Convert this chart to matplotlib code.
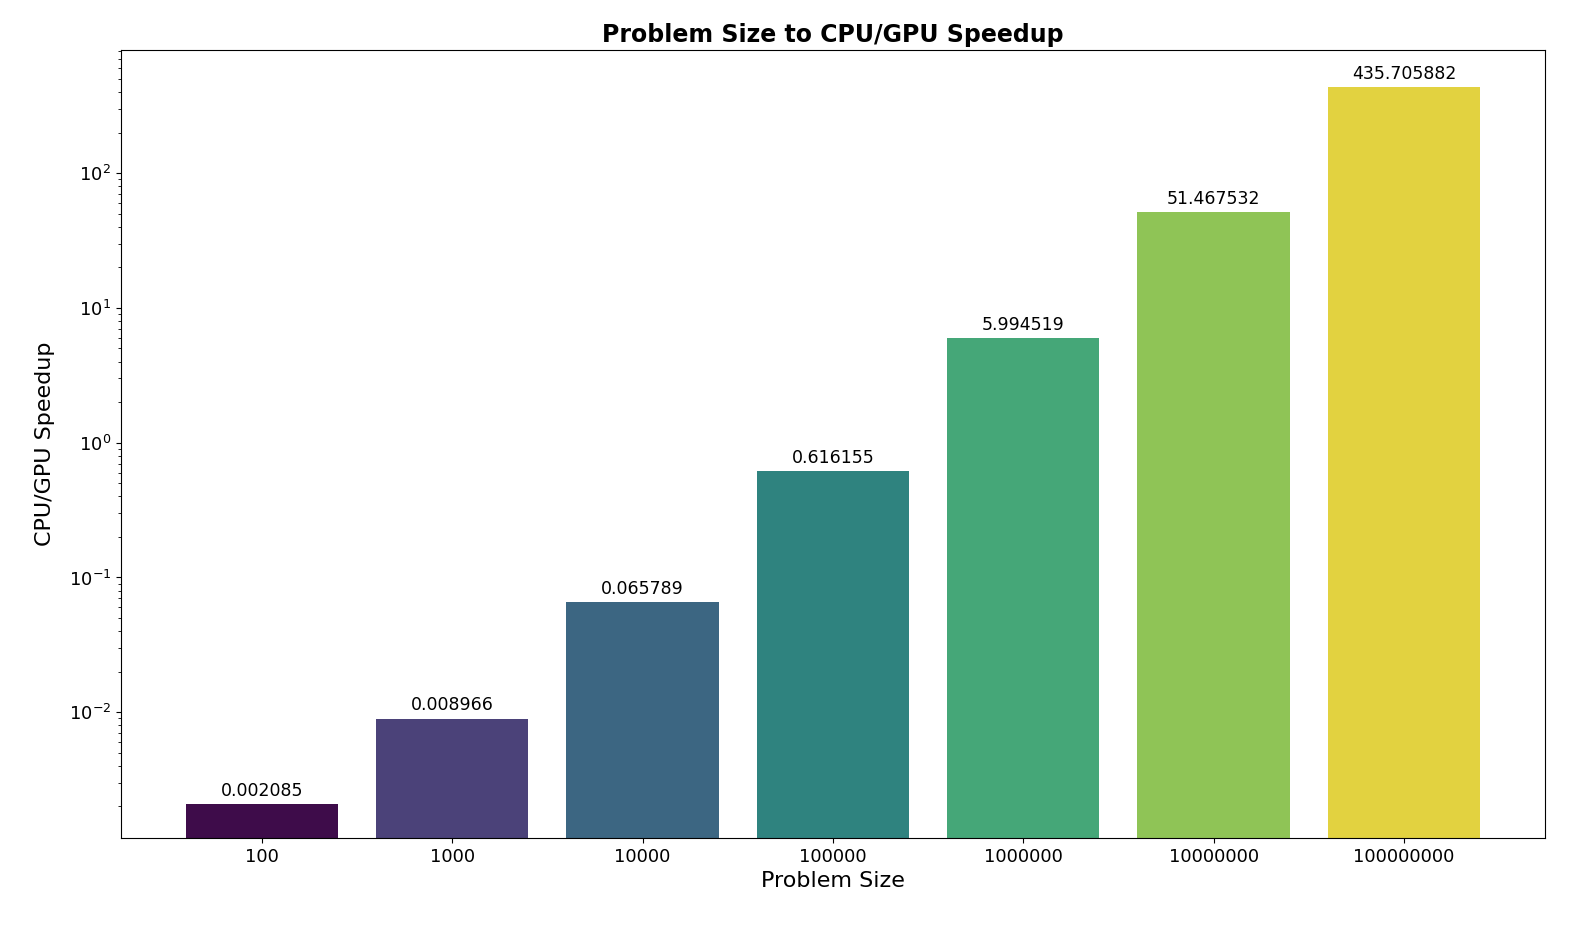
import numpy as np
import matplotlib
matplotlib.use("Agg")
import matplotlib.pyplot as plt
import seaborn as sns

sizes = ["100", "1000", "10000", "100000", "1000000", "10000000", "100000000"]
speedup = [0.002085, 0.008966, 0.065789, 0.616155, 5.994519, 51.467532, 435.705882]

# seaborn barplot look: viridis, saturation 0.75
colors = [sns.desaturate(c, 0.75) for c in plt.cm.viridis(np.linspace(0, 1, len(sizes)))[:, :3]]

fig, ax = plt.subplots(figsize=(15.7, 9.32), dpi=100)
fig.subplots_adjust(left=0.077, right=0.984, top=0.946, bottom=0.101)

bars = ax.bar(sizes, speedup, color=colors, width=0.8)
ax.set_yscale("log")
ax.set_ylim(0.00117, 815)
ax.bar_label(bars, labels=[f"{v:.6f}" for v in speedup], padding=3, fontsize=12.5)

ax.set_title("Problem Size to CPU/GPU Speedup", fontsize=17, fontweight="bold")
ax.set_xlabel("Problem Size", fontsize=16)
ax.set_ylabel("CPU/GPU Speedup", fontsize=16, labelpad=10)
ax.tick_params(axis="both", labelsize=13)

fig.savefig("out.png", dpi=100)
